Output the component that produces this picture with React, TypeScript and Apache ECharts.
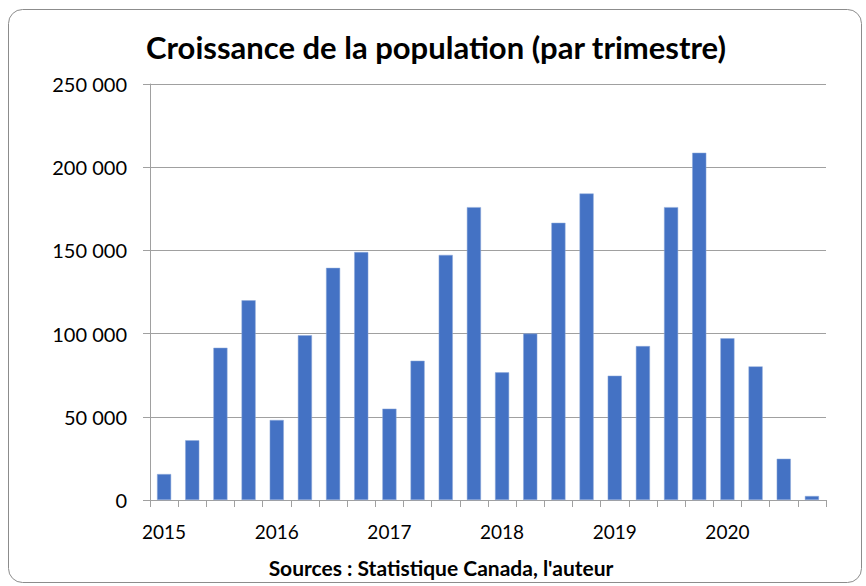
import React, { useEffect, useRef } from "react";
import * as echarts from "echarts";

const years = ["2015", "2016", "2017", "2018", "2019", "2020"];
const quarters = ["T1", "T2", "T3", "T4"];
const values = [
  15600, 35900, 91500, 120000,
  48100, 99000, 139500, 149000,
  54900, 83700, 147300, 176000,
  76700, 100000, 166600, 184200,
  74700, 92500, 176000, 208700,
  97200, 80300, 24800, 2400,
];
const yTicks = [0, 50000, 100000, 150000, 200000, 250000];
const titleText = "Croissance de la population (par trimestre)";
const sourceText = "Sources : Statistique Canada, l'auteur";

const categories: string[] = [];
years.forEach((y) => quarters.forEach((q) => categories.push(y + " " + q)));

const fmt = (v: number) => String(v).replace(/\B(?=(\d{3})+(?!\d))/g, " ");

export default function App() {
  const ref = useRef<HTMLDivElement>(null);
  useEffect(() => {
    if (!ref.current) return;
    const chart = echarts.init(ref.current, null, { renderer: "svg" });
    const font = "Lato, 'Open Sans', sans-serif";
    chart.setOption({
      animation: false,
      backgroundColor: "#ffffff",
      textStyle: { fontFamily: font },
      graphic: [
        {
          type: "rect",
          shape: { x: 8.5, y: 9.5, width: 853, height: 573, r: 14 },
          style: { fill: "none", stroke: "#8c8c8c", lineWidth: 1 },
          silent: true,
        },
        {
          type: "text",
          x: 436,
          y: 47,
          style: {
            text: titleText,
            fontFamily: font,
            fontWeight: "bold",
            fontSize: 31,
            fill: "#000000",
            textAlign: "center",
            textVerticalAlign: "middle",
          },
        },
        {
          type: "text",
          x: 441,
          y: 567,
          style: {
            text: sourceText,
            fontFamily: font,
            fontWeight: "bold",
            fontSize: 21,
            fill: "#000000",
            textAlign: "center",
            textVerticalAlign: "middle",
          },
        },
      ],
      grid: { left: 150, right: 40, top: 84, bottom: 86, containLabel: false },
      xAxis: {
        type: "category",
        data: categories,
        boundaryGap: true,
        axisLine: { show: true, lineStyle: { color: "#a0a0a0", width: 1 } },
        axisTick: {
          show: true,
          interval: 0,
          alignWithLabel: false,
          length: 7,
          lineStyle: { color: "#a0a0a0" },
        },
        axisLabel: {
          interval: 3,
          margin: 22,
          color: "#000000",
          fontSize: 19,
          fontFamily: font,
          formatter: (v: string) => v.slice(0, 4),
        },
        splitLine: { show: false },
      },
      yAxis: {
        type: "value",
        min: yTicks[0],
        max: yTicks[yTicks.length - 1],
        interval: 50000,
        axisLine: { show: true, lineStyle: { color: "#a0a0a0", width: 1 } },
        axisTick: { show: true, length: 7, lineStyle: { color: "#a0a0a0" } },
        axisLabel: {
          margin: 23,
          color: "#000000",
          fontSize: 20,
          fontFamily: font,
          formatter: (v: number) => fmt(v),
        },
        splitLine: { show: true, lineStyle: { color: "#a0a0a0", width: 1 } },
      },
      series: [
        {
          type: "bar",
          data: values,
          barWidth: "50%",
          itemStyle: { color: "#4472c4", borderColor: "#8eaadb", borderWidth: 0.5 },
        },
      ],
    });
    return () => chart.dispose();
  }, []);
  return (
    <div
      ref={ref}
      style={{ position: "absolute", left: 0, top: 0, width: 866, height: 586 }}
    />
  );
}
